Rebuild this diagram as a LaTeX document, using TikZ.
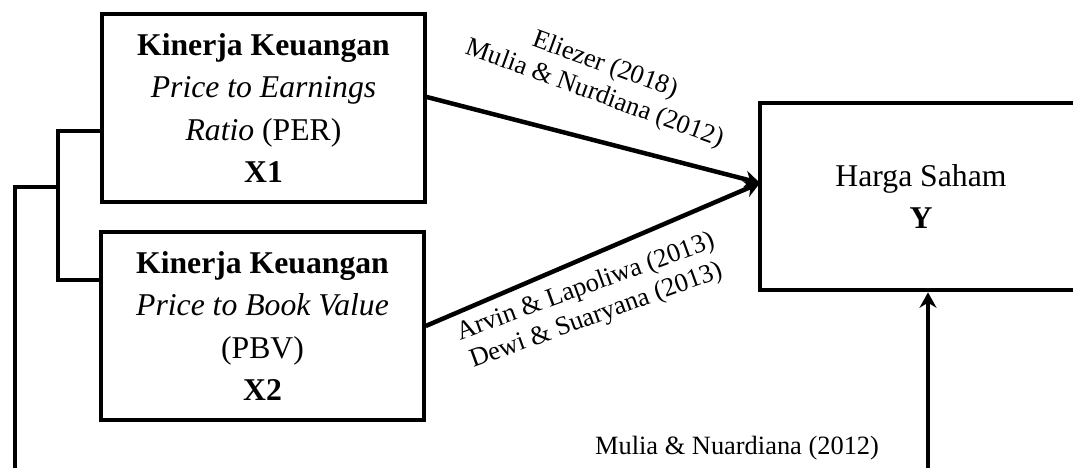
\documentclass[tikz,border=0pt]{standalone}
\usepackage{fontspec}
\setmainfont{Liberation Serif}
\usetikzlibrary{arrows.meta,positioning,calc}

\begin{document}
\begin{tikzpicture}[x=0.3786pt, y=-0.3786pt, font=\fontsize{12}{16}\selectfont, >={Stealth[length=5.8pt, width=6.4pt]},
  var/.style={draw, line width=1.6pt, minimum width=122pt, minimum height=71pt, align=center, inner sep=0pt},
  link/.style={line width=1.5pt},
  lbl/.style={font=\fontsize{10}{11.6}\selectfont, align=center, inner sep=0pt}]
\useasboundingbox (0,0) rectangle (1073,468);
\clip (0,0) rectangle (1073,468);
% variables
\node[var] (per) at (263.5,108) {\textbf{Kinerja Keuangan}\\\textit{Price to Earnings}\\\textit{Ratio} (PER)\\\textbf{X1}};
\node[var] (pbv) at (262.5,326) {\textbf{Kinerja Keuangan}\\\textit{Price to Book Value}\\(PBV)\\\textbf{X2}};
\node[var] (harga) at (921,196.5) {Harga Saham\\\textbf{Y}};
% bracket on the left
\coordinate (brtop) at (58,131);
\coordinate (brbot) at (58,280);
\coordinate (brmid) at (58,187);
\coordinate (outer) at (15,187);
\coordinate (outerend) at (15,490);
\draw[link] (per.west |- brtop) -- (brtop) -- (brbot) -- (pbv.west |- brbot);
\draw[link] (brmid) -- (outer) -- (outerend);
% arrows to Y
\coordinate (tip) at (760,183);
\draw[->, line width=1.7pt] ($(per.east)+(0,-11)$) -- (tip);
\draw[->, line width=1.7pt] (pbv.east) -- (tip);
\coordinate (upstart) at (928,490);
\draw[->, link] (upstart) -- (upstart |- harga.south);
% references
\node[lbl, rotate=-20] (refa) at (600,80) {Eliezer (2018)\\Mulia \& Nurdiana (2012)};
\node[lbl, rotate=20] (refb) at (591,302) {Arvin \& Lapoliwa (2013)\\Dewi \& Suaryana (2013)};
\node[lbl] (refc) at (737,448) {Mulia \& Nuardiana (2012)};
\end{tikzpicture}
\end{document}
